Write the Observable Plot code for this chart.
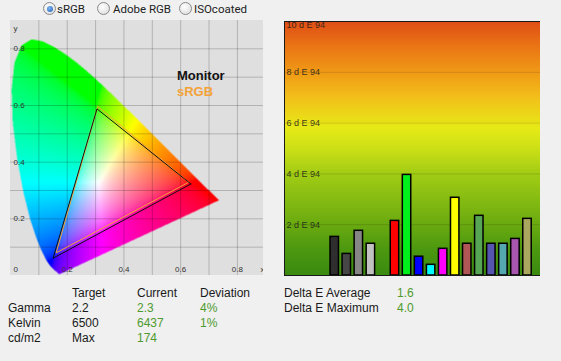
<!DOCTYPE html>
<html><head><meta charset="utf-8">
<script src="https://cdn.jsdelivr.net/npm/d3@7"></script>
<script src="https://cdn.jsdelivr.net/npm/@observablehq/plot@0.6"></script>
<style>
html,body{margin:0;padding:0;background:#f0f0f0;width:561px;height:361px;overflow:hidden;font-family:"Liberation Sans",Arial,sans-serif;color:#1a1a1a}
#cie{position:absolute;left:10px;top:20px}
#bars{position:absolute;left:284px;top:20px}
.rb{position:absolute;top:1.5px;height:15px;line-height:15px;font:11.5px Roboto,"Liberation Sans",sans-serif;color:#222;white-space:nowrap}
.dot{position:absolute;top:2px;width:11px;height:11px;border-radius:50%;border:1px solid #8a8a8a;background:radial-gradient(circle at 40% 35%,#ffffff,#d8d8d8)}
.dot.on::after{content:"";position:absolute;left:2.5px;top:2.5px;width:6px;height:6px;border-radius:50%;background:radial-gradient(circle at 40% 35%,#7fb4f0,#1f5fb8)}
.legend{position:absolute;font:bold 13px "Liberation Sans",Arial,sans-serif;white-space:nowrap}
.cell{position:absolute;font:12px "Liberation Sans",Arial,sans-serif;line-height:15px;white-space:nowrap}
.good{color:#4f9a2e}
</style></head><body>
<div id="radios"></div>
<div id="cie"></div>
<div id="bars"></div>
<div id="legend"></div>
<div id="table"></div>
<script>
// ---------- data ----------
const profiles = ["sRGB", "Adobe RGB", "ISOcoated"];
const selectedProfile = "sRGB";

// CIE 1931 spectral locus (380–700 nm)
const locusX = [0.1741,0.1740,0.1738,0.1736,0.1733,0.1730,0.1726,0.1721,0.1714,0.1703,0.1689,0.1669,0.1644,0.1611,0.1566,0.1510,0.1440,0.1355,0.1241,0.1096,0.0913,0.0687,0.0454,0.0235,0.0082,0.0039,0.0139,0.0389,0.0743,0.1142,0.1547,0.1929,0.2296,0.2658,0.3016,0.3373,0.3731,0.4087,0.4441,0.4788,0.5125,0.5448,0.5752,0.6029,0.6270,0.6482,0.6658,0.6801,0.6915,0.7006,0.7079,0.7140,0.7190,0.7230,0.7260,0.7300,0.7334,0.7347];
const locusY = [0.0050,0.0050,0.0049,0.0049,0.0048,0.0048,0.0048,0.0048,0.0051,0.0058,0.0069,0.0086,0.0109,0.0138,0.0177,0.0227,0.0297,0.0399,0.0578,0.0868,0.1327,0.2007,0.2950,0.4127,0.5384,0.6548,0.7502,0.8120,0.8338,0.8262,0.8059,0.7816,0.7543,0.7243,0.6923,0.6589,0.6245,0.5896,0.5547,0.5202,0.4866,0.4544,0.4242,0.3965,0.3725,0.3514,0.3340,0.3197,0.3083,0.2993,0.2920,0.2859,0.2809,0.2770,0.2740,0.2700,0.2666,0.2653];

const gamutNames = ["Monitor", "sRGB"];
const gamutColors = ["#111111", "#f4a236"];
const monitorX = [0.636, 0.305, 0.150];
const monitorY = [0.323, 0.588, 0.061];
const srgbX = [0.628, 0.308, 0.161];
const srgbY = [0.329, 0.597, 0.080];

const cieXDomain = [0, 0.892];
const cieYDomain = [0, 0.9];
const cieGrid = [0.1, 0.2, 0.3, 0.4, 0.5, 0.6, 0.7, 0.8];
const cieXTicks = [0.2, 0.4, 0.6, 0.8];
const cieYTicks = [0.2, 0.4, 0.6, 0.8];

// Delta E bars
const patches = ["Black","Dark gray","Gray","Light gray","Red","Green","Blue","Cyan","Magenta","Yellow","Skin red","Skin green","Skin blue","Skin cyan","Skin magenta","Skin yellow"];
const patchGroup = ["gray","gray","gray","gray","color","color","color","color","color","color","color","color","color","color","color","color"];
const deltaE = [1.52, 0.85, 1.76, 1.25, 2.15, 3.96, 0.74, 0.42, 1.05, 3.06, 1.25, 2.35, 1.25, 1.25, 1.44, 2.23];
const patchColors = ["#2e2e2e","#464646","#868686","#c2c2c2","#ff0000","#00f01c","#0000ff","#00ffff","#ff00ff","#ffff00","#b05656","#56a656","#5656b0","#56a8b0","#a856b0","#aaa85e"];
const deltaTicks = [2, 4, 6, 8];
const deltaTop = 10;
const gradientStops = [0, 1, 2, 3, 4, 5, 5.8, 7, 8, 9, 10];
const gradientColors = ["#3a8a10","#4c9810","#6aaa10","#86bc12","#a2cc14","#cce016","#e6ea16","#f2c01a","#f09a16","#ea7614","#e04e16"];

// summary table
const tableHeader = ["Target", "Current", "Deviation"];
const rowNames = ["Gamma", "Kelvin", "cd/m2"];
const targetVals = ["2.2", "6500", "Max"];
const currentVals = ["2.3", "6437", "174"];
const deviationVals = ["4%", "1%", ""];
const summaryLabels = ["Delta E Average", "Delta E Maximum"];
const summaryVals = ["1.6", "4.0"];

// ---------- radio buttons ----------
const radioDot = [43, 97, 179];
const radioText = [57, 113, 194];
document.getElementById("radios").innerHTML = profiles.map((p, i) =>
  `<span class="dot${p === selectedProfile ? " on" : ""}" style="position:absolute;left:${radioDot[i]}px;top:2px"></span>` +
  `<div class="rb" style="left:${radioText[i]}px">${p}</div>`).join("");

// ---------- CIE diagram ----------
const locus = locusX.map((x, i) => [x, locusY[i]]);
const gam = v => v <= 0.0031308 ? 12.92 * v : 1.055 * Math.pow(v, 1 / 2.4) - 0.055;
function xyColor(x, y) {
  if (y <= 0 || !d3.polygonContains(locus, [x, y])) return null;
  const X = x / y, Y = 1, Z = (1 - x - y) / y;
  let r = Math.max(0, 3.2406 * X - 1.5372 * Y - 0.4986 * Z);
  let g = Math.max(0, -0.9689 * X + 1.8758 * Y + 0.0415 * Z);
  let b = Math.max(0, 0.0557 * X - 0.2040 * Y + 1.0570 * Z);
  const m = Math.max(r, g, b);
  return d3.rgb(255 * gam(r / m), 255 * gam(g / m), 255 * gam(b / m)).formatRgb();
}
const tri = (xs, ys, name) => [...xs, xs[0]].map((x, i) => ({x, y: [...ys, ys[0]][i], name}));
const gamutData = [...tri(srgbX, srgbY, "sRGB"), ...tri(monitorX, monitorY, "Monitor")];

const cie = Plot.plot({
  width: 253, height: 255,
  marginTop: 0, marginRight: 0, marginBottom: 0, marginLeft: 0,
  x: {domain: cieXDomain, axis: null},
  y: {domain: cieYDomain, axis: null},
  style: {background: "#dfdfdf", fontFamily: "Liberation Sans, Arial, sans-serif"},
  marks: [
    Plot.raster({x1: cieXDomain[0], y1: cieYDomain[0], x2: cieXDomain[1], y2: cieYDomain[1], fill: xyColor, pixelSize: 0.5}),
    Plot.gridX(cieGrid, {stroke: "#000", strokeOpacity: 0.2}),
    Plot.gridY(cieGrid, {stroke: "#000", strokeOpacity: 0.2}),
    Plot.line(gamutData.filter(d => d.name === "sRGB"), {x: "x", y: "y", stroke: gamutColors[1], strokeWidth: 1}),
    Plot.line(gamutData.filter(d => d.name === "Monitor"), {x: "x", y: "y", stroke: gamutColors[0], strokeWidth: 1}),
    Plot.text(cieYTicks, {y: d => d, text: d => d.toFixed(1), frameAnchor: "left", dx: 3, textAnchor: "start", fontSize: 8, fill: "#333"}),
    Plot.text(cieXTicks, {x: d => d, text: d => d.toFixed(1), frameAnchor: "bottom", dy: -4, fontSize: 8, fill: "#333"}),
    Plot.text(["0"], {frameAnchor: "bottom-left", dx: 3, dy: -4, textAnchor: "start", fontSize: 8, fill: "#333"}),
    Plot.text(["y"], {frameAnchor: "top-left", dx: 3, dy: 5, textAnchor: "start", fontSize: 8, fill: "#333"}),
    Plot.text(["x"], {frameAnchor: "bottom-right", dx: -3, dy: -4, textAnchor: "start", fontSize: 8, fill: "#333"})
  ]
});
document.getElementById("cie").appendChild(cie);

document.getElementById("legend").innerHTML = gamutNames.map((n, i) =>
  `<div class="legend" style="left:177px;top:${68 + i * 16}px;color:${gamutColors[i]}">${n}</div>`).join("");

// ---------- Delta E bars ----------
const bars = patches.map((p, i) => {
  const slot = i + (patchGroup[i] === "color" ? 1 : 0);
  return {patch: p, slot, x1: slot - 0.35, x2: slot + 0.35, value: deltaE[i], color: patchColors[i]};
});
const grad = d3.scaleLinear().domain(gradientStops).range(gradientColors).interpolate(d3.interpolateRgb);
const barPlot = Plot.plot({
  width: 256, height: 256,
  marginTop: 1, marginRight: 0, marginBottom: 1, marginLeft: 0,
  x: {domain: [-4.17, 17.08], axis: null},
  y: {domain: [0, deltaTop], axis: null},
  style: {background: "transparent", fontFamily: "Liberation Sans, Arial, sans-serif"},
  marks: [
    Plot.raster({x1: -4.17, y1: 0, x2: 17.08, y2: deltaTop, fill: (x, y) => grad(y), pixelSize: 1}),
    Plot.gridY(deltaTicks, {stroke: "#000", strokeOpacity: 0.13}),
    Plot.text(deltaTicks, {y: d => d, text: d => `${d} d E 94`, frameAnchor: "left", dx: 2, textAnchor: "start", fontSize: 9, fill: "#1a1a1a", fillOpacity: 0.85}),
    Plot.text([deltaTop], {y: d => d, text: d => `${d} d E 94`, frameAnchor: "left", dx: 2, dy: 4, textAnchor: "start", fontSize: 9, fill: "#1a1a1a", fillOpacity: 0.85}),
    Plot.rectY(bars, {x1: "x1", x2: "x2", y1: 0, y2: "value", fill: "color", stroke: "#000", strokeWidth: 1.5}),
    Plot.frame({stroke: "#1a1a1a", strokeWidth: 1})
  ]
});
document.getElementById("bars").appendChild(barPlot);

// ---------- table ----------
const rowTop = [285.5, 300.5, 315.5, 330.5];
let html = "";
const colX = [72, 137, 200];
tableHeader.forEach((h, j) => html += `<div class="cell" style="left:${colX[j]}px;top:${rowTop[0]}px">${h}</div>`);
rowNames.forEach((r, i) => {
  const t = rowTop[i + 1];
  html += `<div class="cell" style="left:8px;top:${t}px">${r}</div>`;
  html += `<div class="cell" style="left:${colX[0]}px;top:${t}px">${targetVals[i]}</div>`;
  html += `<div class="cell good" style="left:${colX[1]}px;top:${t}px">${currentVals[i]}</div>`;
  html += `<div class="cell good" style="left:${colX[2]}px;top:${t}px">${deviationVals[i]}</div>`;
});
summaryLabels.forEach((s, i) => {
  html += `<div class="cell" style="left:284px;top:${rowTop[i]}px">${s}</div>`;
  html += `<div class="cell good" style="left:397px;top:${rowTop[i]}px">${summaryVals[i]}</div>`;
});
document.getElementById("table").innerHTML = html;
</script>
</body></html>
